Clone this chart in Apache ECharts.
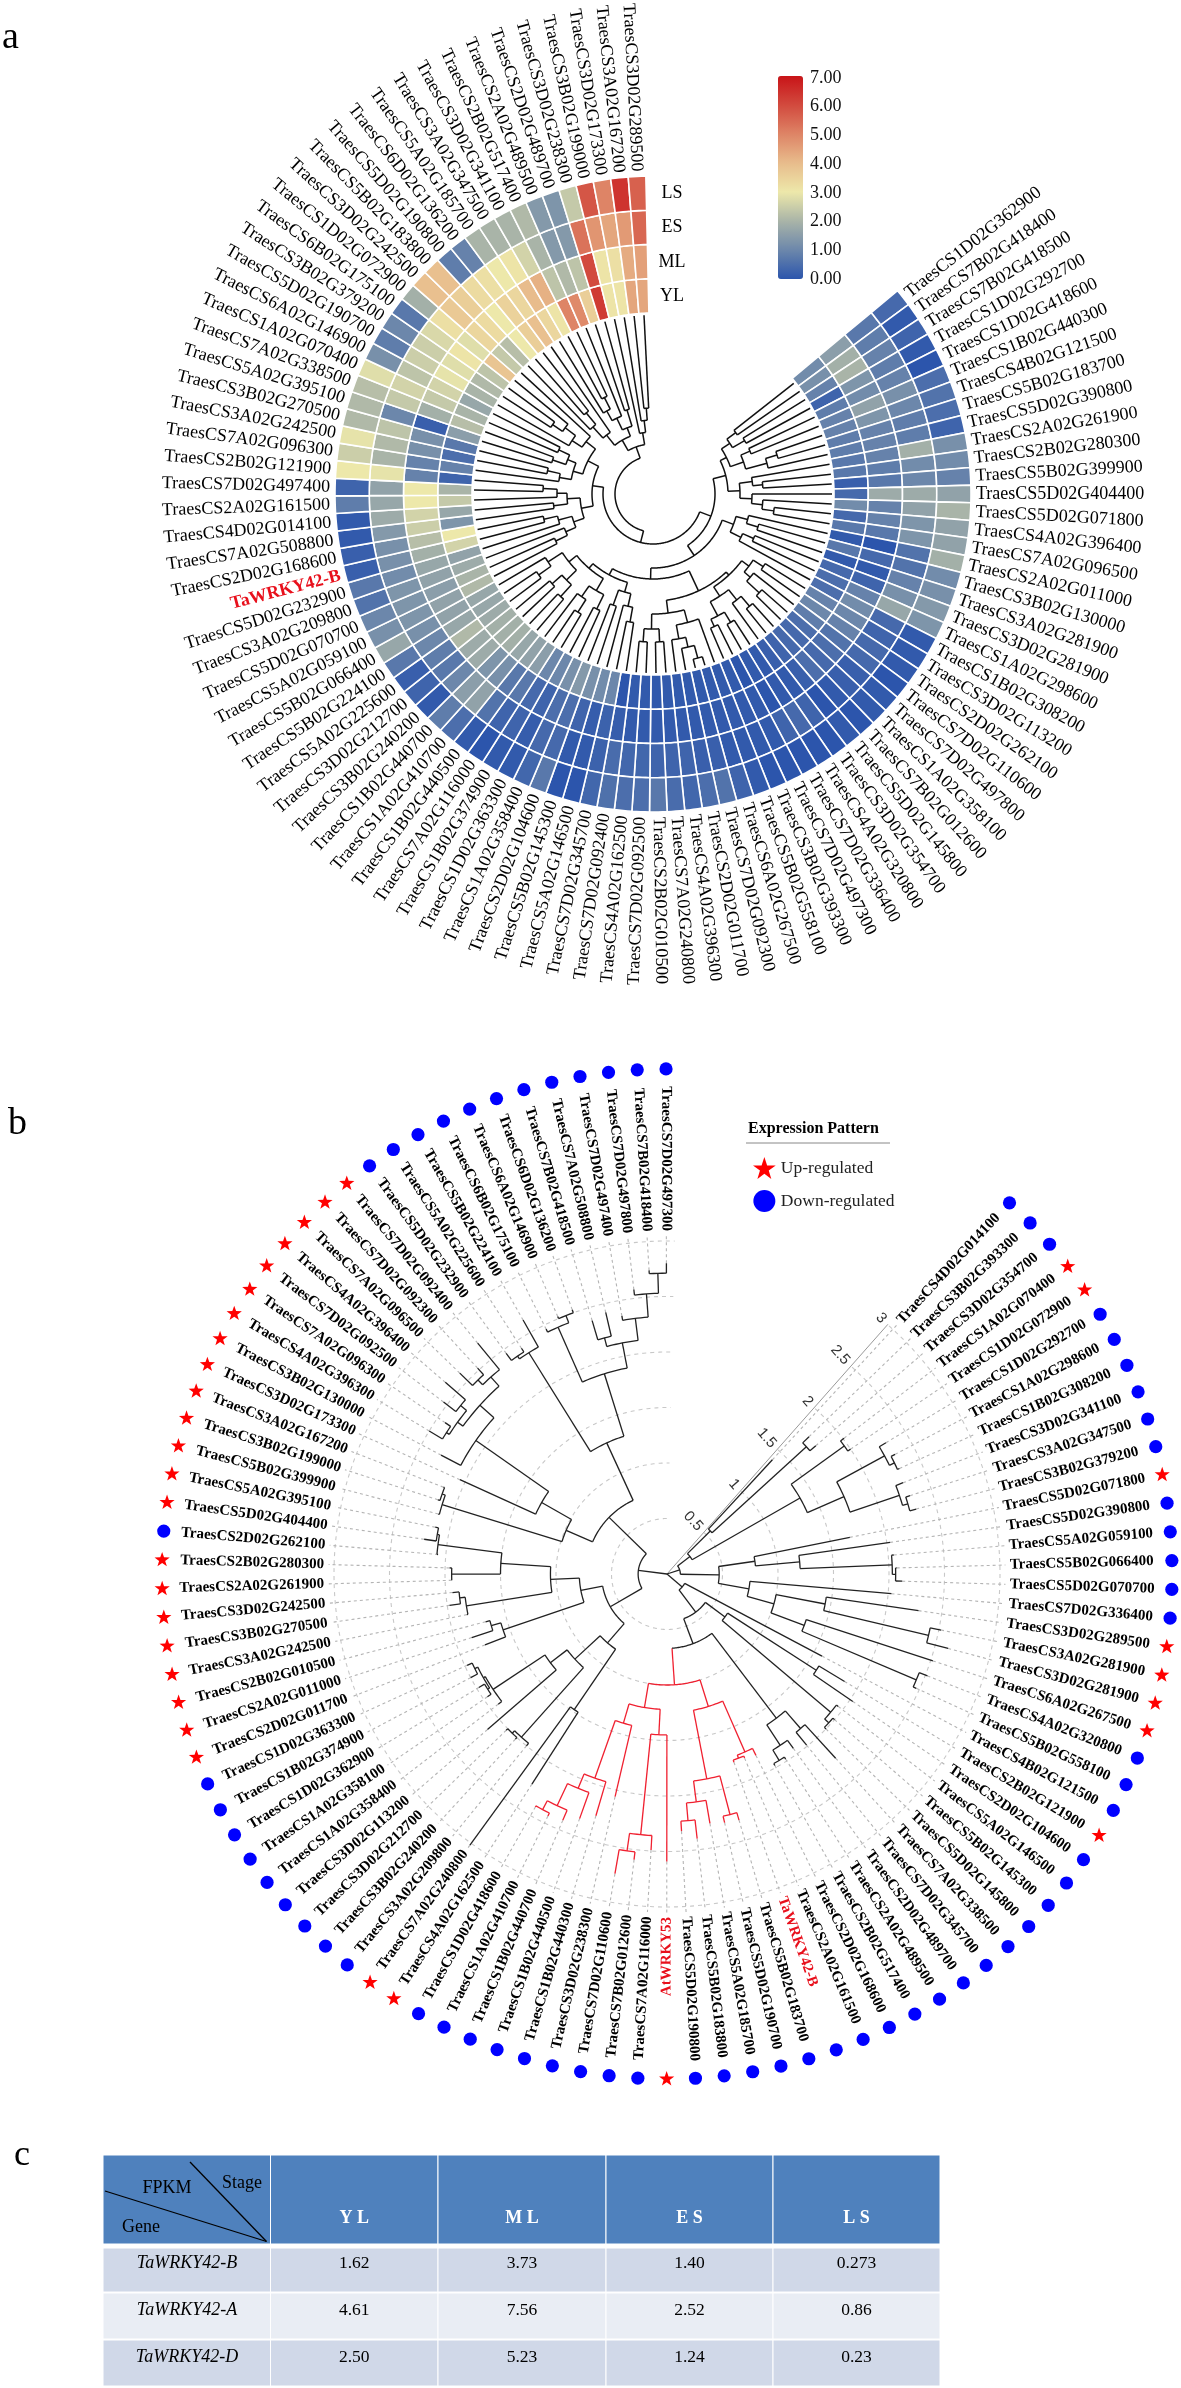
<!DOCTYPE html>
<html><head><meta charset="utf-8">
<style>html,body{margin:0;padding:0;background:#fff}#c{width:1181px;height:2388px}</style>
<script src="https://cdn.jsdelivr.net/npm/echarts@6/dist/echarts.min.js"></script>
</head><body><div id="c"></div>
<script>
// ---------- panel a data ----------
const genesA=["TraesCS1D02G362900","TraesCS7B02G418400","TraesCS7B02G418500","TraesCS1D02G292700","TraesCS1D02G418600","TraesCS1B02G440300","TraesCS4B02G121500","TraesCS5B02G183700","TraesCS5D02G390800","TraesCS2A02G261900","TraesCS2B02G280300","TraesCS5B02G399900","TraesCS5D02G404400","TraesCS5D02G071800","TraesCS4A02G396400","TraesCS7A02G096500","TraesCS2A02G011000","TraesCS3B02G130000","TraesCS3A02G281900","TraesCS3D02G281900","TraesCS1A02G298600","TraesCS1B02G308200","TraesCS3D02G113200","TraesCS2D02G262100","TraesCS7D02G110600","TraesCS7D02G497800","TraesCS1A02G358100","TraesCS7B02G012600","TraesCS5D02G145800","TraesCS3D02G354700","TraesCS4A02G320800","TraesCS7D02G336400","TraesCS7D02G497300","TraesCS3B02G393300","TraesCS5B02G558100","TraesCS6A02G267500","TraesCS7D02G092300","TraesCS2D02G011700","TraesCS4A02G396300","TraesCS7A02G240800","TraesCS2B02G010500","TraesCS7D02G092500","TraesCS4A02G162500","TraesCS7D02G092400","TraesCS7D02G345700","TraesCS5A02G146500","TraesCS5B02G145300","TraesCS2D02G104600","TraesCS1A02G358400","TraesCS1D02G363300","TraesCS1B02G374900","TraesCS7A02G116000","TraesCS1B02G440500","TraesCS1A02G410700","TraesCS1B02G440700","TraesCS3B02G240200","TraesCS3D02G212700","TraesCS5A02G225600","TraesCS5B02G224100","TraesCS5B02G066400","TraesCS5A02G059100","TraesCS5D02G070700","TraesCS3A02G209800","TraesCS5D02G232900","TaWRKY42-B","TraesCS2D02G168600","TraesCS7A02G508800","TraesCS4D02G014100","TraesCS2A02G161500","TraesCS7D02G497400","TraesCS2B02G121900","TraesCS7A02G096300","TraesCS3A02G242500","TraesCS3B02G270500","TraesCS5A02G395100","TraesCS7A02G338500","TraesCS1A02G070400","TraesCS6A02G146900","TraesCS5D02G190700","TraesCS3B02G379200","TraesCS6B02G175100","TraesCS1D02G072900","TraesCS3D02G242500","TraesCS5B02G183800","TraesCS5D02G190800","TraesCS6D02G136200","TraesCS5A02G185700","TraesCS3A02G347500","TraesCS3D02G341100","TraesCS2B02G517400","TraesCS2A02G489500","TraesCS2D02G489700","TraesCS3D02G238300","TraesCS3B02G199000","TraesCS3D02G173300","TraesCS3A02G167200","TraesCS3D02G289500"];
// each row: YL, ML, ES, LS (inner ring to outer ring)
const heatRows=[[1.1,1.5,.7,.4],[1.2,1.9,.8,.1],[.9,2,.9,.3],[.3,1.3,.8,.1],[.8,1.1,.9,0],[.9,1.6,1.2,.5],[.9,1.3,1,.6],[.8,.9,.8,.5],[.8,.9,.8,.3],[.7,.9,1.9,1.2],[.7,.8,1.1,1.1],[.2,.7,1,.9],[.4,1.8,1.8,1.6],[1.1,.9,1.6,2],[.4,.9,1.3,1.6],[.7,.7,1.3,1.6],[.1,0,.6,1.9],[.7,.4,.6,1.1],[.1,.1,.9,1.2],[.4,.3,1.2,1.4],[.5,.9,1.7,1.3],[.5,1.1,.4,.1],[.9,1,.3,.1],[1,.9,.4,.1],[.8,.6,.4,0],[.5,.5,.2,.1],[.4,.4,.2,.1],[.4,.5,.1,0],[.3,.2,0,.1],[.2,.1,.3,0],[.1,.1,.4,0],[.1,0,.3,0],[0,.1,.1,0],[.1,.1,.1,0],[.1,.1,.1,.1],[.1,.1,.1,.3],[.1,.1,.2,.6],[.1,.1,.2,.5],[.1,.1,.3,.35],[.1,.1,.3,.45],[.05,.1,.3,.7],[.1,.1,.35,.5],[.1,.1,.35,.5],[0,.15,.45,.55],[1,.25,.25,.35],[1.1,.15,.1,0],[1.2,.3,.1,0],[1.4,.5,.4,.7],[1.2,.5,.4,.35],[1,.3,.15,.1],[1,.4,.3,.1],[1.5,.7,.3,0],[1.6,.7,.6,.1],[1.7,1.2,1.6,.5],[1.9,1.3,1.5,.8],[1.9,1.8,1,.1],[1.9,1.8,.7,.3],[1.8,2.1,.8,.2],[1.7,1.7,1,.7],[1.7,1.6,1.2,1.7],[2.1,1.6,1.3,1.2],[2,1.5,1.3,1],[1.8,1.6,1.3,.6],[1.6,1.7,1.1,.7],[2.6,1.9,1.2,.2],[3,2.2,1.2,.2],[1.3,2.5,1.4,.1],[1.7,2.6,1.8,.1],[2.4,3,1.7,.8],[2,3,1.6,.3],[.3,.9,2.9,3],[.9,.9,2,2.5],[.5,1.2,2.1,2.9],[.7,1.2,2.3,2.1],[1.5,.2,1,2.1],[2.2,1.9,2.4,2.2],[2,2.4,2.6,2.8],[1.7,2.6,2.3,1.2],[2,2.9,2.5,.8],[2.1,2.8,2.5,1],[2.3,3.1,2.7,.7],[3.8,2.8,3.2,1.9],[2.4,3.4,3.7,3.9],[2.2,3.3,3.6,3.9],[3,3,3.3,.8],[3.6,3.5,3.2,.9],[3.9,3.4,3,2],[3.4,4,3.1,2],[3.1,4.2,2.6,2],[5,2.3,2,2.1],[4.9,2.1,1.4,1.4],[3.6,2.3,1.4,1.3],[6.3,6,5.3,2.4],[3.1,3.1,4.7,5.8],[3.1,3.2,4.4,5],[4.4,4.3,4.6,6.4],[4.4,4.5,5.5,5.6]];
const ringNames=["YL","ML","ES","LS"];
const colorStops=["#2c55ac","#6c87ab","#a9b4a8","#ede8aa","#e8bc8c","#de8466","#d24a3e","#c81418"];
// cladogram of panel a: [branch radius, children...]; 0 = a leaf
const G1=[82,[92,[103,0,0],[106,0,0]],[96,[106,0,0],[118,[130,0,0],0]]];
const G2=[87,[100,0,[110,0,0]],[99,0,[110,0,[122,0,0]]]];
const G3=[86,[98,0,[110,0,0]],[98,[110,0,0],0]];
const G4=[111,[120,[132,0,0],[128,0,[145,0,0]]],[122,[135,[148,0,0],0],[138,[150,0,0],[146,0,0]]]];
const G5=[120,[133,0,[147,[157,[170,0,0],0],0]],[135,[148,0,0],[148,0,0]]];
const G6=[102,[115,[130,0,0],0],[118,0,0]];
const G7=[98,[112,[128,0,0],[125,[140,0,0],0]],[108,[122,[138,0,0],[135,0,0]],[125,[140,0,0],0]]];
const G8=[73,[84,[95,[108,0,0],0],[98,0,[112,0,0]]],[86,[100,0,0],[96,0,[110,0,0]]]];
const G9=[73,[83,[95,0,[108,0,0]],[92,[106,0,0],[104,0,0]]],[85,[97,0,[110,[122,0,0],0]],0]];
const G10=[62,[75,[90,0,[105,0,0]],0],[71,[84,[95,0,[108,0,0]],0],[88,0,0]]];
const treeA=[38,[50,[62,[75,G1,G2],[74,G3,[85,[107,G4,G5],[92,G6,G7]]]],[61,G8,G9]],[50,G10,[62,0,[74,0,[86,0,0]]]]];

// ---------- panel b data ----------
const genesB=["TraesCS4D02G014100","TraesCS3B02G393300","TraesCS3D02G354700","TraesCS1A02G070400","TraesCS1D02G072900","TraesCS1D02G292700","TraesCS1A02G298600","TraesCS1B02G308200","TraesCS3D02G341100","TraesCS3A02G347500","TraesCS3B02G379200","TraesCS5D02G071800","TraesCS5D02G390800","TraesCS5A02G059100","TraesCS5B02G066400","TraesCS5D02G070700","TraesCS7D02G336400","TraesCS3D02G289500","TraesCS3A02G281900","TraesCS3D02G281900","TraesCS6A02G267500","TraesCS4A02G320800","TraesCS5B02G558100","TraesCS4B02G121500","TraesCS2B02G121900","TraesCS2D02G104600","TraesCS5A02G146500","TraesCS5B02G145300","TraesCS5D02G145800","TraesCS7A02G338500","TraesCS7D02G345700","TraesCS2D02G489700","TraesCS2A02G489500","TraesCS2B02G517400","TraesCS2D02G168600","TraesCS2A02G161500","TaWRKY42-B","TraesCS5B02G183700","TraesCS5D02G190700","TraesCS5A02G185700","TraesCS5B02G183800","TraesCS5D02G190800","AtWRKY53","TraesCS7A02G116000","TraesCS7B02G012600","TraesCS7D02G110600","TraesCS3D02G238300","TraesCS1B02G440300","TraesCS1B02G440500","TraesCS1B02G440700","TraesCS1A02G410700","TraesCS1D02G418600","TraesCS4A02G162500","TraesCS7A02G240800","TraesCS3A02G209800","TraesCS3B02G240200","TraesCS3D02G212700","TraesCS3D02G113200","TraesCS1A02G358400","TraesCS1A02G358100","TraesCS1D02G362900","TraesCS1B02G374900","TraesCS1D02G363300","TraesCS2D02G011700","TraesCS2A02G011000","TraesCS2B02G010500","TraesCS3A02G242500","TraesCS3B02G270500","TraesCS3D02G242500","TraesCS2A02G261900","TraesCS2B02G280300","TraesCS2D02G262100","TraesCS5D02G404400","TraesCS5A02G395100","TraesCS5B02G399900","TraesCS3B02G199000","TraesCS3A02G167200","TraesCS3D02G173300","TraesCS3B02G130000","TraesCS4A02G396300","TraesCS7A02G096300","TraesCS7D02G092500","TraesCS4A02G396400","TraesCS7A02G096500","TraesCS7D02G092300","TraesCS7D02G092400","TraesCS5D02G232900","TraesCS5A02G225600","TraesCS5B02G224100","TraesCS6B02G175100","TraesCS6A02G146900","TraesCS6D02G136200","TraesCS7B02G418500","TraesCS7A02G508800","TraesCS7D02G497400","TraesCS7D02G497800","TraesCS7B02G418400","TraesCS7D02G497300"];
const upRegulated=new Set(["TraesCS1A02G070400","TraesCS1D02G072900","TraesCS5D02G071800","TraesCS3D02G289500","TraesCS3A02G281900","TraesCS3D02G281900","TraesCS6A02G267500","TraesCS2B02G121900","AtWRKY53","TraesCS4A02G162500","TraesCS7A02G240800","TraesCS2D02G011700","TraesCS2A02G011000","TraesCS2B02G010500","TraesCS3A02G242500","TraesCS3B02G270500","TraesCS3D02G242500","TraesCS2A02G261900","TraesCS2B02G280300","TraesCS5D02G404400","TraesCS5A02G395100","TraesCS5B02G399900","TraesCS3B02G199000","TraesCS3A02G167200","TraesCS3D02G173300","TraesCS3B02G130000","TraesCS4A02G396300","TraesCS7A02G096300","TraesCS7D02G092500","TraesCS4A02G396400","TraesCS7A02G096500","TraesCS7D02G092300","TraesCS7D02G092400"]);
// phylogram of panel b: [node distance, children...]; a bare number = leaf tip distance
const cladeRed=[1,[1.25,[1.75,1.82,[1.78,1.8,1.8]],[1.88,[2.24,2.31,2.3],[2.07,2.28,[2.23,2.4,2.32]]]],[1.22,[1.45,2.59,[2.36,2.49,[2.52,2.59,2.74]]],[1.4,2.06,[1.95,2.27,[2.09,2.34,[2.31,2.41,[2.4,2.43,2.41]]]]]]];
const cladeNE=[.26,[.55,1.4,[1.7,1.78,1.77]],[1.38,[1.97,2.01,2],[1.74,[2.23,2.3,[2.28,2.32,2.3]],[2.21,2.28,[2.26,2.3,2.32]]]]];
const cladeE=[.47,[.8,1.68,[1.2,2.03,[2.03,2.05,[2.06,2.07,2.12]]]],[.75,2.03,[1,[1.45,2.29,[2.42,2.52,2.62]],[1.32,2.52,[2.44,2.52,2.47]]]]];
const cladeS=[.18,1.58,[.43,[.65,[1.6,1.87,2.03],[1.93,1.95,[1.98,2,2]]],[.67,[1.63,[1.84,2.25,1.99],[1.85,1.94,[1.96,1.98,1.98]]],cladeRed]]];
const cladeSW=[.59,[.82,[1.48,2.25,3.02],[1.13,[1.97,2,[2,2.02,2.02]],[1.32,2.14,[1.88,1.92,[1.9,[1.92,1.96,1.98],[1.93,2,1.98]]]]]],[.79,[1.56,1.76,[1.65,1.85,1.69]],[1.05,[1.83,1.84,[1.88,1.98,1.94]],[1.5,[1.94,1.94,1.96],[2.08,2.07,[2.1,2.21,2.13]]]]]];
const cladeNW=[.73,[.99,[2.12,2.13,[2.15,2.17,2.16]],[1.3,2.05,[2.1,2.3,[2.27,[2.33,[2.36,2.5,2.42],[2.4,2.54,2.64]],[2.38,[2.44,2.6,2.52],2.69]]]]],[1.3,[2.35,[2.38,2.46,2.42],2.63],[1.89,[2.43,2.46,[2.5,2.52,2.53]],[2.12,[2.2,2.38,2.42],[2.32,2.36,[2.53,2.58,[2.71,2.74,2.8]]]]]]];
const treeB=[0,[.12,cladeNE,cladeE],cladeS,[.26,cladeSW,cladeNW]];
const ringValues=[.5,1,1.5,2,2.5,3];

// ---------- panel c data ----------
const tableStages=["Y L","M L","E S","L S"];
const tableGenes=["TaWRKY42-B","TaWRKY42-A","TaWRKY42-D"];
const tableValues=[["1.62","3.73","1.40","0.273"],["4.61","7.56","2.52","0.86"],["2.50","5.23","1.24","0.23"]];

// ---------- helpers ----------
const SERIF='"Liberation Serif","Times New Roman",serif';
function layoutTree(tree,offset,leafR){
  const nodes=[],leaves=[];let next=1;
  (function walk(n,parentR,red){
    if(typeof n==='number'){
      const a=next-offset,r=n||leafR;next++;
      nodes.push([parentR,r,a,a,a,red?1:0]);leaves.push([r,a]);return a;
    }
    const isRed=red||n===cladeRed,r=n[0];
    const ang=n.slice(1).map(c=>walk(c,r,isRed));
    const a1=ang[0],a2=ang[ang.length-1],m=(a1+a2)/2;
    nodes.push([parentR,r,m,a1,a2,isRed?1:0]);return m;
  })(tree,tree[0],false);
  return {nodes,leaves};
}
function arcPts(api,r,a1,a2){
  const pts=[],n=Math.max(1,Math.ceil(Math.abs(a2-a1)/.25));
  for(let i=0;i<=n;i++)pts.push(api.coord([r,a1+(a2-a1)*i/n]));
  return pts;
}
function treeSeries(polarIndex,data,black,width){
  return {type:'custom',coordinateSystem:'polar',polarIndex,silent:true,z:4,data,encode:{radius:1,angle:2},
    renderItem(p,api){
      const r0=api.value(0),r=api.value(1),a=api.value(2),a1=api.value(3),a2=api.value(4);
      const style={stroke:api.value(5)?'#f02030':black,lineWidth:width,fill:null};
      return {type:'group',children:[
        {type:'polyline',shape:{points:[api.coord([r0,a]),api.coord([r,a])]},style},
        {type:'polyline',shape:{points:arcPts(api,r,a1,a2)},style}]};
    }};
}
function labelSeries(polarIndex,names,radius,offset,font,redFont,z){
  return {type:'custom',coordinateSystem:'polar',polarIndex,silent:true,z:z||5,
    data:names.map((n,i)=>[radius,i+1-offset]),encode:{radius:0,angle:1},
    renderItem(p,api){
      const pt=api.coord([api.value(0),api.value(1)]),cs=p.coordSys;
      const dx=pt[0]-cs.cx,dy=pt[1]-cs.cy,left=dx<0;
      const dir=Math.atan2(-dy,dx);
      const name=names[p.dataIndex],red=name==='TaWRKY42-B'||name==='AtWRKY53';
      return {type:'text',x:pt[0],y:pt[1],rotation:left?dir+Math.PI:dir,
        style:{text:name,fill:red?'#e8101c':'#000',font:red?redFont:font,align:left?'right':'left',verticalAlign:'middle'}};
    }};
}
// five-pointed star outline around a data point, in pixels
function starPts(c,R){
  const pts=[];
  for(let i=0;i<10;i++){const t=-Math.PI/2+i*Math.PI/5,q=i%2?R*.4:R;pts.push([c[0]+q*Math.cos(t),c[1]+q*Math.sin(t)]);}
  return pts;
}

// ---------- panel geometry on the angle axes ----------
const unitsA=360/3.18, unitsB=360/3.27, offsetB=.633;
const layA=layoutTree(treeA,.5,179), layB=layoutTree(treeB,offsetB,0);
const heatData=[];
heatRows.forEach((row,i)=>row.forEach((v,k)=>heatData.push([k,i,v])));
const markerRadius=4.55;
const upData=[],downData=[];
genesB.forEach((g,i)=>(upRegulated.has(g)?upData:downData).push([markerRadius,i+1-offsetB]));
const starPath='path://M50 0 L61.8 35.5 L98 35.5 L68.6 57.5 L79.4 93 L50 71 L20.6 93 L31.4 57.5 L2 35.5 L38.2 35.5 Z';

// ---------- table and other page furniture ----------
const gfx=[];
const T=(x,y,text,font,fill,align)=>gfx.push({type:'text',x,y,silent:true,style:{text,font,fill:fill||'#000',align:align||'center',verticalAlign:'middle'}});
const colX=[103,270.5,438,606,773,940];
const rowBands=[[2155,2244,'#4f81bd'],[2248,2292,'#d0d8e8'],[2293,2339,'#e9edf4'],[2340,2386,'#d0d8e8']];
rowBands.forEach(b=>{for(let c=0;c<5;c++)gfx.push({type:'rect',silent:true,shape:{x:colX[c],y:b[0],width:colX[c+1]-colX[c],height:b[1]-b[0]},style:{fill:b[2],stroke:'#fff',lineWidth:1}});});
gfx.push({type:'line',silent:true,z:5,shape:{x1:105,y1:2191,x2:266.5,y2:2241.5},style:{stroke:'#000',lineWidth:1.3}});
gfx.push({type:'line',silent:true,z:5,shape:{x1:190,y1:2162,x2:266.5,y2:2241.5},style:{stroke:'#000',lineWidth:1.3}});
T(167,2188,'FPKM','18px '+SERIF);T(242,2183,'Stage','18px '+SERIF);T(141,2227,'Gene','18px '+SERIF);
tableStages.forEach((s,c)=>T((colX[c+1]+colX[c+2])/2,2218,s,'bold 18px '+SERIF,'#fff'));
const rowY=[2263,2310,2357];
tableGenes.forEach((g,r)=>{T(187,rowY[r],g,'italic 18px '+SERIF);
  tableValues[r].forEach((v,c)=>T((colX[c+1]+colX[c+2])/2,rowY[r],v,'17.5px '+SERIF));});
T(2,38,'a','38px '+SERIF,'#000','left');T(8,1124,'b','38px '+SERIF,'#000','left');T(14,2156,'c','36px '+SERIF,'#000','left');
[['LS',193],['ES',227],['ML',262],['YL',296]].forEach(d=>T(672,d[1],d[0],'18px '+SERIF));
T(748,1129,'Expression Pattern','bold 16px '+SERIF,'#000','left');
gfx.push({type:'line',silent:true,shape:{x1:746,y1:1143,x2:890,y2:1143},style:{stroke:'#888',lineWidth:1}});

// ---------- option ----------
const hiddenAngle=(polarIndex,max,startAngle)=>({polarIndex,type:'value',min:0,max,startAngle,show:false});
const hiddenRadius=(polarIndex,min,max)=>({polarIndex,type:'value',min,max,show:false});
const option={
  animation:false,backgroundColor:'#fff',
  polar:[{center:[653,494],radius:[0,318]},{center:[653,494],radius:[0,318]},{center:[667,1574],radius:[0,333]}],
  angleAxis:[hiddenAngle(0,unitsA,39.75),hiddenAngle(1,unitsA,39.75),hiddenAngle(2,unitsB,48.5)],
  radiusAxis:[hiddenRadius(0,-181/34.25,4),hiddenRadius(1,0,318),
    {polarIndex:2,type:'value',min:0,max:3,interval:.5,z:3,
     axisLine:{show:true,lineStyle:{color:'#999',width:1}},axisTick:{show:false},splitLine:{show:false},
     axisLabel:{show:true,rotate:-48.5,margin:5,color:'#333',fontSize:15,fontFamily:'"Liberation Sans",sans-serif',formatter:v=>v===0?'':String(v)}}],
  grid:[{left:778,top:78,width:25,height:201,containLabel:false,show:false}],
  xAxis:[{gridIndex:0,type:'value',show:false,min:0,max:1}],
  yAxis:[{gridIndex:0,type:'value',position:'right',min:0,max:7,interval:1,
    axisLine:{show:false},axisTick:{show:false},splitLine:{show:false},
    axisLabel:{margin:7,color:'#111',fontSize:18,fontFamily:SERIF,formatter:v=>v.toFixed(2)}}],
  visualMap:[{type:'continuous',seriesIndex:0,dimension:2,min:0,max:7,calculable:false,left:763,top:61,itemWidth:25,itemHeight:203,
    inRange:{color:colorStops},textStyle:{color:'#111'},hoverLink:false}],
  legend:{left:748,top:1152,orient:'vertical',itemWidth:23,itemHeight:22,itemGap:11,selectedMode:false,
    textStyle:{fontFamily:SERIF,fontSize:17.5,color:'#222'},
    data:[{name:'Up-regulated',icon:starPath,itemStyle:{color:'#ff0000'}},{name:'Down-regulated',icon:'circle',itemStyle:{color:'#0000ff'}}]},
  graphic:{elements:gfx},
  series:[
    {type:'custom',name:'Expression',coordinateSystem:'polar',polarIndex:0,silent:true,data:heatData,encode:{radius:0,angle:1},
     renderItem(p,api){
       const k=api.value(0),i=api.value(1);
       const pts=arcPts(api,k+1,i,i+1).concat(arcPts(api,k,i+1,i));
       return {type:'polygon',shape:{points:pts},style:{fill:api.visual('color'),stroke:'#fff',lineWidth:1.6}};
     }},
    treeSeries(1,layA.nodes,'#111',1.5),
    labelSeries(1,genesA,323,.5,'18px '+SERIF,'bold 18px '+SERIF),
    {type:'custom',coordinateSystem:'polar',polarIndex:2,silent:true,z:1,data:ringValues.map(v=>[v]),encode:{radius:0},
     renderItem(p,api){return {type:'polyline',shape:{points:arcPts(api,api.value(0),0.1,97.8)},style:{stroke:'#c8c8c8',lineWidth:1.1,lineDash:[4,4],fill:null}};}},
    {type:'custom',coordinateSystem:'polar',polarIndex:2,silent:true,z:2,data:layB.leaves,encode:{radius:0,angle:1},
     renderItem(p,api){const a=api.value(1);return {type:'polyline',shape:{points:[api.coord([api.value(0),a]),api.coord([3.05,a])]},style:{stroke:'#b4b4b4',lineWidth:1.1,lineDash:[3,3],fill:null}};}},
    treeSeries(2,layB.nodes,'#222',1.3),
    labelSeries(2,genesB,343/111,offsetB,'bold 15px '+SERIF,'bold 15px '+SERIF),
    {type:'custom',name:'Up-regulated',coordinateSystem:'polar',polarIndex:2,silent:true,z:6,itemStyle:{color:'#ff0000'},data:upData,encode:{radius:0,angle:1},
     renderItem(p,api){return {type:'polygon',shape:{points:starPts(api.coord([api.value(0),api.value(1)]),8)},style:{fill:'#ff0000'}};}},
    {type:'custom',name:'Down-regulated',coordinateSystem:'polar',polarIndex:2,silent:true,z:6,itemStyle:{color:'#0000ff'},data:downData,encode:{radius:0,angle:1},
     renderItem(p,api){const c=api.coord([api.value(0),api.value(1)]);return {type:'circle',shape:{cx:c[0],cy:c[1],r:6.6},style:{fill:'#0000ff'}};}}
  ]
};
const chart=echarts.init(document.getElementById('c'),null,{width:1181,height:2388});
chart.setOption(option);
</script></body></html>
